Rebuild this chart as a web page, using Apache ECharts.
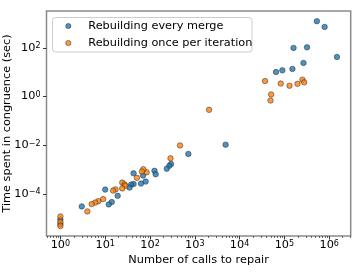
<!DOCTYPE html>
<html><head><meta charset="utf-8">
<script src="https://cdn.jsdelivr.net/npm/echarts@6/dist/echarts.min.js"></script>
<style>html,body{margin:0;padding:0;background:#fff}#c{width:363px;height:272px}</style>
</head><body><div id="c"></div>
<script>
const seriesNames = ['Rebuilding every merge', 'Rebuilding once per iteration'];
const seriesColors = ['#1f77b4', '#ff7f0e'];
const blueX = [5.3e5, 7.9e5, 1.6e5, 3.2e5, 1.49e6, 2.67e5, 6.5e4, 9.0e4, 1.51e5, 4870, 718, 295, 270, 237, 126, 134, 43, 70, 80, 63, 43, 38, 35, 19, 10, 14, 12, 3, 1, 1];
const blueY = [1230, 720, 99, 104, 42, 23.8, 10.1, 11.8, 13.5, 0.0105, 0.00436, 0.00169, 0.00142, 0.00108, 0.000885, 0.000641, 0.000698, 0.000567, 0.00032, 0.000265, 0.000253, 0.000241, 0.000181, 8.3e-5, 0.00015, 4.6e-5, 3.7e-5, 3.05e-5, 8.9e-6, 5.8e-6];
const orangeX = [3.7e4, 8.3e4, 1.3e5, 1.96e5, 2.53e5, 2.76e5, 5.06e4, 4.9e4, 2080, 468, 287, 84, 71, 66, 51, 24, 27, 28, 24, 17, 15, 9, 7, 6, 5, 4, 1, 1, 1];
const orangeY = [4.3, 3.4, 2.76, 3.3, 4.9, 3.8, 1.21, 0.68, 0.283, 0.00975, 0.0029, 0.00077, 0.00103, 0.00083, 0.000455, 0.00029, 0.000246, 0.000215, 0.000168, 0.000153, 0.000136, 6.1e-5, 5.0e-5, 4.4e-5, 3.8e-5, 1.9e-5, 1.18e-5, 7.0e-6, 4.8e-6];
const xTickExps = [0, 1, 2, 3, 4, 5, 6];
const yTickExps = [-4, -2, 0, 2];
const xLabel = 'Number of calls to repair';
const yLabel = 'Time spent in congruence (sec)';

const FONT = 'DejaVu Sans';
const FS = 11.3;
const xMin = -0.31, xMax = 6.48, yMin = -5.73, yMax = 3.51;

function pairs(xs, ys) { return xs.map((x, i) => [Math.log10(x), Math.log10(ys[i])]); }
const minorX = [];
for (let d = -1; d <= 6; d++) for (let k = 2; k <= 9; k++) {
  const v = d + Math.log10(k);
  if (v > xMin && v < xMax) minorX.push(v);
}
function supFmt(v) {
  const e = Math.round(v);
  const s = (e < 0 ? '\u2212' : '') + Math.abs(e);
  return '{b|10}{s|' + s + '}';
}
const rich = { b: { fontSize: FS, fontFamily: FONT, color: '#000' }, s: { fontSize: 8, fontFamily: FONT, color: '#000', verticalAlign: 'top' } };

// legend drawn as graphic elements (box, markers, real text)
const legendGraphics = [
  { type: 'rect', shape: { x: 52.5, y: 17.5, width: 199.5, height: 34.5, r: 3 }, style: { fill: 'rgba(255,255,255,0.8)', stroke: '#cccccc', lineWidth: 1 }, z: 50 }
];
seriesNames.forEach((name, i) => {
  const cy = 26 + i * 17;
  legendGraphics.push({ type: 'circle', shape: { cx: 68.3, cy: cy, r: 2.6 }, style: { fill: seriesColors[i], opacity: 0.8, stroke: '#222', lineWidth: 0.6 }, z: 51 });
  legendGraphics.push({ type: 'text', x: 88.3, y: cy, style: { text: name, fontFamily: FONT, fontSize: FS, fill: '#000', align: 'left', verticalAlign: 'middle' }, z: 51 });
});

const chart = echarts.init(document.getElementById('c'), null, { renderer: 'canvas' });
chart.setOption({
  animation: false,
  grid: { left: 46.5, right: 12.3, top: 11, bottom: 36, show: true, borderColor: '#8a8a8a', borderWidth: 1.5, backgroundColor: 'transparent' },
  xAxis: [{
    type: 'value', min: xMin, max: xMax, position: 'bottom',
    axisLine: { show: false, onZero: false }, splitLine: { show: false },
    axisTick: { show: true, length: 3.5, lineStyle: { color: '#333', width: 1 }, customValues: xTickExps },
    axisLabel: { margin: 4, customValues: xTickExps, formatter: supFmt, rich: rich }
  }, {
    type: 'value', min: xMin, max: xMax, position: 'bottom',
    axisLine: { show: false, onZero: false }, splitLine: { show: false },
    axisTick: { show: true, length: 2, lineStyle: { color: '#444', width: 0.8 }, customValues: minorX },
    axisLabel: { show: false }
  }],
  yAxis: [{
    type: 'value', min: yMin, max: yMax, position: 'left',
    axisLine: { show: false, onZero: false }, splitLine: { show: false },
    axisTick: { show: true, length: 3.5, lineStyle: { color: '#333', width: 1 }, customValues: yTickExps },
    axisLabel: { margin: 6, customValues: yTickExps, formatter: supFmt, rich: rich }
  }],
  series: [{
    name: seriesNames[0], type: 'scatter', xAxisIndex: 0, symbol: 'circle', symbolSize: 5.5,
    itemStyle: { color: seriesColors[0], opacity: 0.8, borderColor: '#222', borderWidth: 0.6 },
    data: pairs(blueX, blueY)
  }, {
    name: seriesNames[1], type: 'scatter', xAxisIndex: 0, symbol: 'circle', symbolSize: 5.5,
    itemStyle: { color: seriesColors[1], opacity: 0.8, borderColor: '#222', borderWidth: 0.6 },
    data: pairs(orangeX, orangeY)
  }],
  graphic: [
    { type: 'text', x: 198.6, y: 260, style: { text: xLabel, fontFamily: FONT, fontSize: FS, fill: '#000', align: 'center', verticalAlign: 'middle' } },
    { type: 'text', x: 7, y: 123.5, rotation: Math.PI / 2, style: { text: yLabel, fontFamily: FONT, fontSize: FS, fill: '#000', align: 'center', verticalAlign: 'middle' } }
  ].concat(legendGraphics)
});
</script></body></html>
